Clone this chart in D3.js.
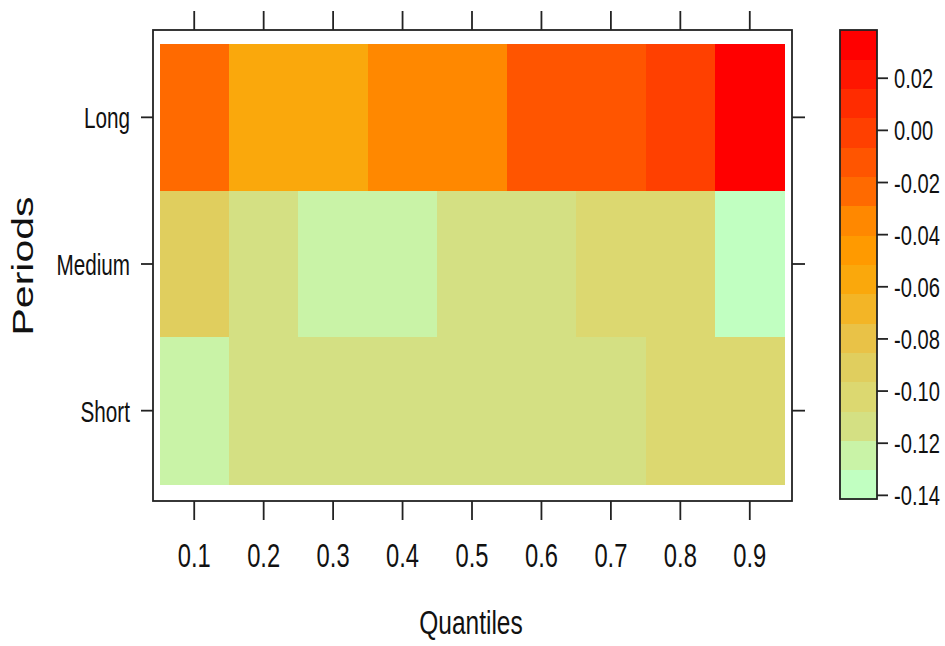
<!DOCTYPE html>
<html>
<head>
<meta charset="utf-8">
<script src="https://cdn.jsdelivr.net/npm/d3@7"></script>
<style>
  html, body { margin: 0; padding: 0; background: #fff; }
  svg { display: block; }
  text { font-family: "Liberation Sans", Arial, sans-serif; fill: #111; }
</style>
</head>
<body>
<svg id="chart" width="945" height="646"></svg>
<script>
// ---- data ----
const quantiles = ["0.1", "0.2", "0.3", "0.4", "0.5", "0.6", "0.7", "0.8", "0.9"];
const periods = ["Long", "Medium", "Short"];
const longValues   = [-0.023, -0.057, -0.055, -0.035, -0.033, -0.013, -0.011, -0.001, 0.0385];
const mediumValues = [-0.091, -0.113, -0.124, -0.122, -0.110, -0.112, -0.101, -0.103, -0.1414];
const shortValues  = [-0.125, -0.114, -0.111, -0.116, -0.112, -0.109, -0.115, -0.105, -0.099];
const colorTickValues = [0.02, 0.00, -0.02, -0.04, -0.06, -0.08, -0.10, -0.12, -0.14];
const palette = ["#C1FFC1", "#C9F3A7", "#D4E083", "#DCD870", "#E0CE5E", "#E9C247", "#F3B526", "#FAA80C",
                 "#FF9A00", "#FF8800", "#FF6A00", "#FF5500", "#FF4000", "#FF2C00", "#FF1600", "#FF0000"];

const rows = [
  { period: "Long", values: longValues },
  { period: "Medium", values: mediumValues },
  { period: "Short", values: shortValues }
];
const cells = [];
rows.forEach(r => r.values.forEach((v, i) => cells.push({ period: r.period, q: quantiles[i], v })));

const svg = d3.select("#chart");
const SX = 0.72; // horizontal glyph compression seen in the reference

// ---- scales ----
const panel = { x0: 153, x1: 792, y0: 30, y1: 501 };
const x = d3.scaleBand().domain(quantiles).range([159.5, 784.5]).padding(0);
const y = d3.scaleBand().domain(periods).range([44, 484]).padding(0);
const extent = d3.extent(cells, d => d.v);
const color = d3.scaleQuantize().domain(extent).range(palette);

// ---- cells ----
svg.append("g").attr("shape-rendering", "crispEdges")
  .selectAll("rect").data(cells).join("rect")
  .attr("x", d => x(d.q))
  .attr("y", d => y(d.period))
  .attr("width", x.bandwidth() + 0.5)
  .attr("height", y.bandwidth() + 0.5)
  .attr("fill", d => color(d.v));

// ---- panel border ----
svg.append("rect")
  .attr("x", panel.x0).attr("y", panel.y0)
  .attr("width", panel.x1 - panel.x0).attr("height", panel.y1 - panel.y0)
  .attr("fill", "none").attr("stroke", "#222").attr("stroke-width", 1.8);

// ---- ticks ----
const tickG = svg.append("g").attr("stroke", "#222").attr("stroke-width", 1.8);
quantiles.forEach(q => {
  const cx = x(q) + x.bandwidth() / 2;
  tickG.append("line").attr("x1", cx).attr("x2", cx).attr("y1", panel.y0).attr("y2", panel.y0 - 19);
  tickG.append("line").attr("x1", cx).attr("x2", cx).attr("y1", panel.y1).attr("y2", panel.y1 + 19);
});
periods.forEach(p => {
  const cy = y(p) + y.bandwidth() / 2;
  tickG.append("line").attr("x1", panel.x0).attr("x2", panel.x0 - 12).attr("y1", cy).attr("y2", cy);
  tickG.append("line").attr("x1", panel.x1).attr("x2", panel.x1 + 13).attr("y1", cy).attr("y2", cy);
});

// ---- tick labels ----
quantiles.forEach(q => {
  const cx = x(q) + x.bandwidth() / 2;
  svg.append("text")
    .attr("transform", `translate(${cx},567) scale(${SX},1)`)
    .attr("text-anchor", "middle").attr("font-size", 33).text(q);
});
periods.forEach(p => {
  const cy = y(p) + y.bandwidth() / 2;
  svg.append("text")
    .attr("transform", `translate(130,${cy + 11}) scale(0.69,1)`)
    .attr("text-anchor", "end").attr("font-size", 30).text(p);
});

// ---- axis titles ----
svg.append("text")
  .attr("transform", `translate(471,634) scale(${SX},1)`)
  .attr("text-anchor", "middle").attr("font-size", 34).text("Quantiles");
svg.append("text")
  .attr("transform", `translate(33,266) scale(${SX},1) rotate(-90)`)
  .attr("text-anchor", "middle").attr("font-size", 41).text("Periods");

// ---- colour key ----
const key = { x0: 840, x1: 877, y0: 30, y1: 499 };
const ky = d3.scaleLinear().domain(extent).range([key.y1, key.y0]);
const bounds = [extent[0], ...color.thresholds(), extent[1]];
svg.append("g").attr("shape-rendering", "crispEdges")
  .selectAll("rect").data(palette).join("rect")
  .attr("x", key.x0)
  .attr("width", key.x1 - key.x0)
  .attr("y", (c, i) => ky(bounds[i + 1]))
  .attr("height", (c, i) => ky(bounds[i]) - ky(bounds[i + 1]) + 0.5)
  .attr("fill", c => c);
svg.append("rect")
  .attr("x", key.x0).attr("y", key.y0)
  .attr("width", key.x1 - key.x0).attr("height", key.y1 - key.y0)
  .attr("fill", "none").attr("stroke", "#222").attr("stroke-width", 1.8);
colorTickValues.forEach(v => {
  const ty = ky(v);
  svg.append("line").attr("x1", key.x1).attr("x2", key.x1 + 11).attr("y1", ty).attr("y2", ty)
    .attr("stroke", "#222").attr("stroke-width", 1.8);
  svg.append("text")
    .attr("transform", `translate(894,${ty + 10}) scale(${SX},1)`)
    .attr("text-anchor", "start").attr("font-size", 28)
    .text(d3.format(".2f")(v).replace("−", "-"));
});
</script>
</body>
</html>
